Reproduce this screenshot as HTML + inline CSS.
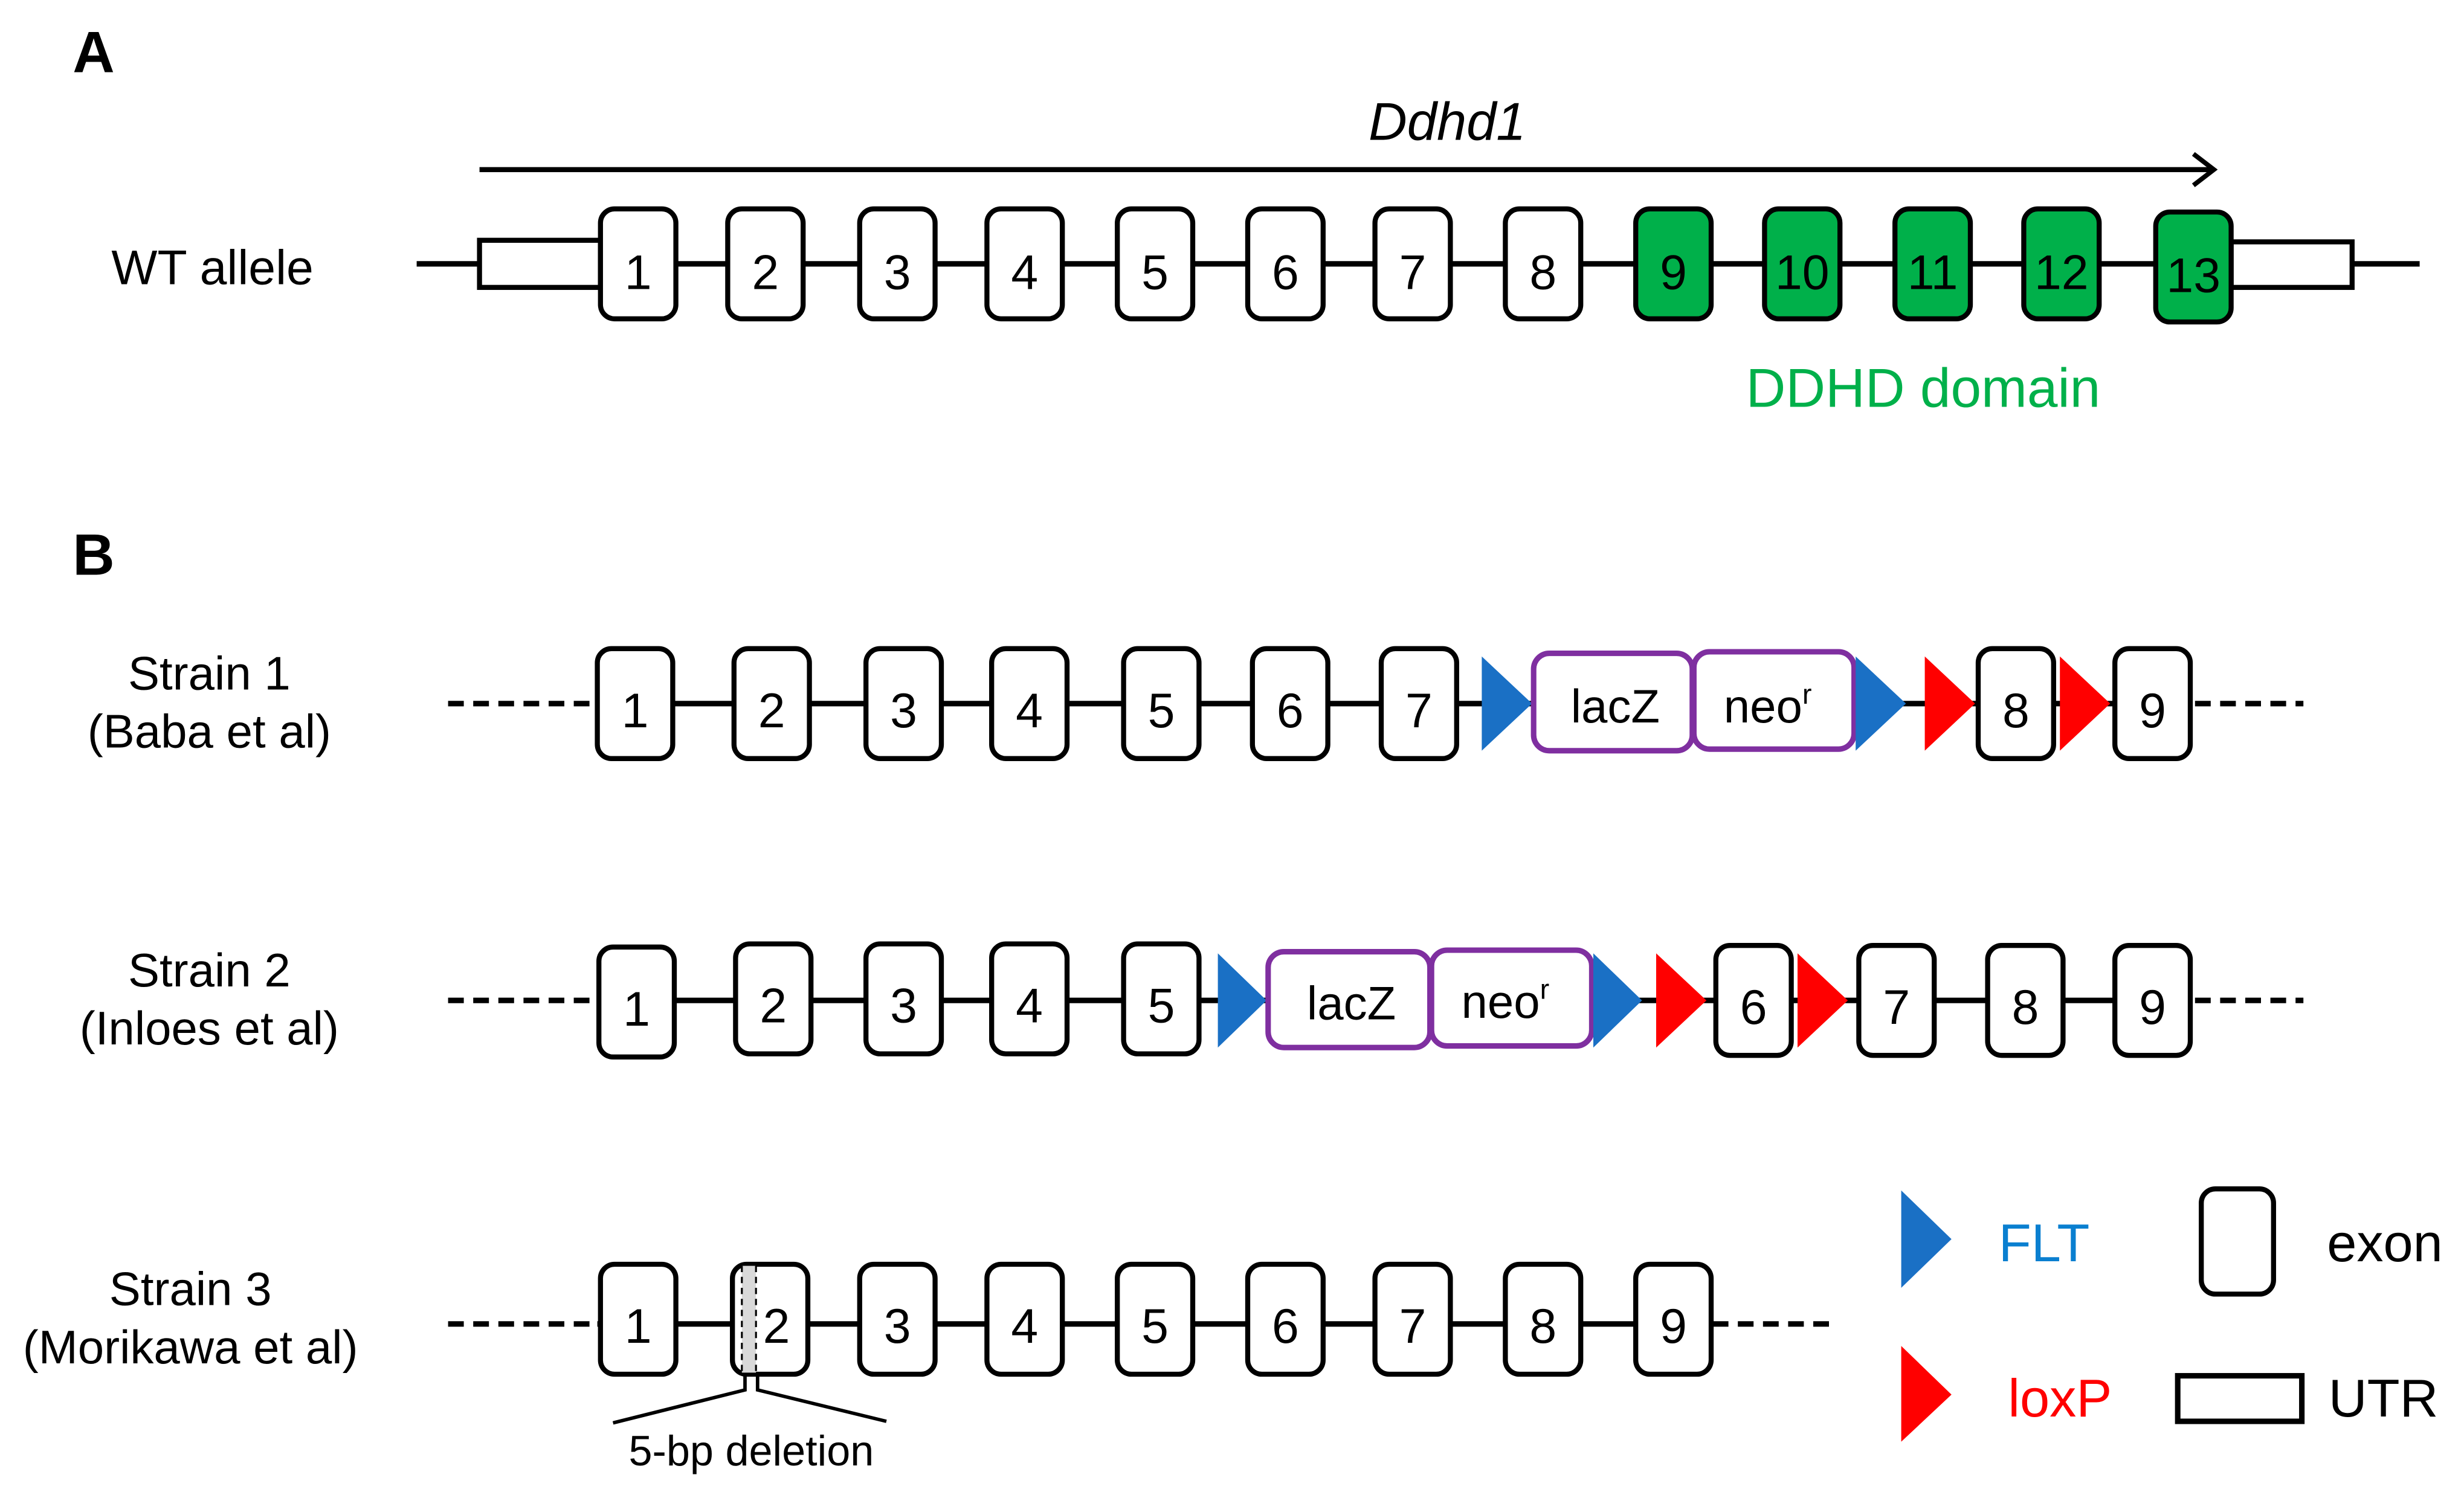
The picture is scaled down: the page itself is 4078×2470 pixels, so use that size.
<!DOCTYPE html>
<html><head><meta charset="utf-8"><style>html,body{margin:0;padding:0;background:#fff}svg{display:block}</style></head>
<body>
<svg width="4078" height="2470" viewBox="0 0 1568 950" xmlns="http://www.w3.org/2000/svg" font-family="Liberation Sans, Arial, sans-serif">
<defs>
<g id="ex"><rect x="-24" y="-35" width="48" height="70" rx="9" fill="#fff" stroke="#000" stroke-width="3.2"/></g>
<g id="exg"><rect x="-24" y="-35" width="48" height="70" rx="9" fill="#00b04a" stroke="#000" stroke-width="3.2"/></g>
</defs>
<rect width="1568" height="950" fill="#fff"/>
<text x="46" y="46" font-size="37" font-weight="bold">A</text>
<text x="46" y="366" font-size="37" font-weight="bold">B</text>

<!-- Panel A -->
<text x="921" y="89" font-size="34" font-style="italic" text-anchor="middle">Ddhd1</text>
<line x1="305" y1="108" x2="1408" y2="108" stroke="#000" stroke-width="3.2"/>
<polyline points="1396,98 1409,108 1396,118" fill="none" stroke="#000" stroke-width="3"/>
<text x="135" y="181" font-size="31" text-anchor="middle">WT allele</text>
<line x1="265" y1="168" x2="1540" y2="168" stroke="#000" stroke-width="3.5"/>
<rect x="305" y="153" width="77" height="30" fill="#fff" stroke="#000" stroke-width="3.2"/>
<rect x="1420" y="154" width="77" height="29" fill="#fff" stroke="#000" stroke-width="3.2"/>
<g font-size="31" text-anchor="middle">
<use href="#ex" x="406" y="168"/><text x="406" y="184">1</text>
<use href="#ex" x="487" y="168"/><text x="487" y="184">2</text>
<use href="#ex" x="571" y="168"/><text x="571" y="184">3</text>
<use href="#ex" x="652" y="168"/><text x="652" y="184">4</text>
<use href="#ex" x="735" y="168"/><text x="735" y="184">5</text>
<use href="#ex" x="818" y="168"/><text x="818" y="184">6</text>
<use href="#ex" x="899" y="168"/><text x="899" y="184">7</text>
<use href="#ex" x="982" y="168"/><text x="982" y="184">8</text>
<use href="#exg" x="1065" y="168"/><text x="1065" y="184">9</text>
<use href="#exg" x="1147" y="168"/><text x="1147" y="184">10</text>
<use href="#exg" x="1230" y="168"/><text x="1230" y="184">11</text>
<use href="#exg" x="1312" y="168"/><text x="1312" y="184">12</text>
<use href="#exg" x="1396" y="170"/><text x="1396" y="186">13</text>
</g>
<text x="1224" y="259" font-size="35" fill="#00b04a" text-anchor="middle">DDHD domain</text>

<!-- Strain 1 -->
<g font-size="30" text-anchor="middle"><text x="133" y="439">Strain 1</text><text x="133" y="476">(Baba et al)</text></g>
<line x1="285" y1="448" x2="380" y2="448" stroke="#000" stroke-width="3.5" stroke-dasharray="10,6"/>
<line x1="380" y1="448" x2="1395" y2="448" stroke="#000" stroke-width="3.5"/>
<line x1="1397" y1="448" x2="1466" y2="448" stroke="#000" stroke-width="3.5" stroke-dasharray="10,6"/>
<g font-size="31" text-anchor="middle">
<use href="#ex" x="404" y="448"/><text x="404" y="463">1</text>
<use href="#ex" x="491" y="448"/><text x="491" y="463">2</text>
<use href="#ex" x="575" y="448"/><text x="575" y="463">3</text>
<use href="#ex" x="655" y="448"/><text x="655" y="463">4</text>
<use href="#ex" x="739" y="448"/><text x="739" y="463">5</text>
<use href="#ex" x="821" y="448"/><text x="821" y="463">6</text>
<use href="#ex" x="903" y="448"/><text x="903" y="463">7</text>
<use href="#ex" x="1283" y="448"/><text x="1283" y="463">8</text>
<use href="#ex" x="1370" y="448"/><text x="1370" y="463">9</text>
</g>
<polygon points="943,418 975,448 943,478" fill="#1a70c5"/>
<rect x="976" y="416" width="101" height="62" rx="10" fill="#fff" stroke="#7f2fa0" stroke-width="3.5"/>
<rect x="1078" y="415" width="102" height="62" rx="10" fill="#fff" stroke="#7f2fa0" stroke-width="3.5"/>
<polygon points="1181,418 1213,448 1181,478" fill="#1a70c5"/>
<polygon points="1225,418 1257,448 1225,478" fill="#ff0000"/>
<polygon points="1311,418 1343,448 1311,478" fill="#ff0000"/>
<text x="1028" y="460" font-size="30" text-anchor="middle">lacZ</text>
<text x="1125" y="460" font-size="30" text-anchor="middle">neo<tspan font-size="18" dy="-12">r</tspan></text>

<!-- Strain 2 -->
<g font-size="30" text-anchor="middle"><text x="133" y="628">Strain 2</text><text x="133" y="665">(Inloes et al)</text></g>
<line x1="285" y1="637" x2="380" y2="637" stroke="#000" stroke-width="3.5" stroke-dasharray="10,6"/>
<line x1="380" y1="637" x2="1395" y2="637" stroke="#000" stroke-width="3.5"/>
<line x1="1397" y1="637" x2="1466" y2="637" stroke="#000" stroke-width="3.5" stroke-dasharray="10,6"/>
<g font-size="31" text-anchor="middle">
<use href="#ex" x="405" y="638"/><text x="405" y="653">1</text>
<use href="#ex" x="492" y="636"/><text x="492" y="651">2</text>
<use href="#ex" x="575" y="636"/><text x="575" y="651">3</text>
<use href="#ex" x="655" y="636"/><text x="655" y="651">4</text>
<use href="#ex" x="739" y="636"/><text x="739" y="651">5</text>
<use href="#ex" x="1116" y="637"/><text x="1116" y="652">6</text>
<use href="#ex" x="1207" y="637"/><text x="1207" y="652">7</text>
<use href="#ex" x="1289" y="637"/><text x="1289" y="652">8</text>
<use href="#ex" x="1370" y="637"/><text x="1370" y="652">9</text>
</g>
<polygon points="775,607 806,637 775,667" fill="#1a70c5"/>
<rect x="807" y="606" width="103" height="61" rx="10" fill="#fff" stroke="#7f2fa0" stroke-width="3.5"/>
<rect x="911" y="605" width="102" height="61" rx="10" fill="#fff" stroke="#7f2fa0" stroke-width="3.5"/>
<polygon points="1014,607 1045,637 1014,667" fill="#1a70c5"/>
<polygon points="1054,607 1086,637 1054,667" fill="#ff0000"/>
<polygon points="1144,607 1176,637 1144,667" fill="#ff0000"/>
<text x="860" y="649" font-size="30" text-anchor="middle">lacZ</text>
<text x="958" y="648" font-size="30" text-anchor="middle">neo<tspan font-size="18" dy="-12">r</tspan></text>

<!-- Strain 3 -->
<g font-size="30" text-anchor="middle"><text x="121" y="831">Strain 3</text><text x="121" y="868">(Morikawa et al)</text></g>
<line x1="285" y1="843" x2="380" y2="843" stroke="#000" stroke-width="3.5" stroke-dasharray="10,6"/>
<line x1="380" y1="843" x2="1090" y2="843" stroke="#000" stroke-width="3.5"/>
<line x1="1090" y1="843" x2="1170" y2="843" stroke="#000" stroke-width="3.5" stroke-dasharray="10,6"/>
<g font-size="31" text-anchor="middle">
<use href="#ex" x="406" y="840"/><text x="406" y="855">1</text>
<use href="#ex" x="490" y="840"/>
<rect x="472" y="806" width="9" height="68" fill="#d9d9d9"/>
<line x1="472" y1="806" x2="472" y2="874" stroke="#000" stroke-width="1.2" stroke-dasharray="4,3"/>
<line x1="481" y1="806" x2="481" y2="874" stroke="#000" stroke-width="1.2" stroke-dasharray="4,3"/>
<text x="494" y="855">2</text>
<use href="#ex" x="571" y="840"/><text x="571" y="855">3</text>
<use href="#ex" x="652" y="840"/><text x="652" y="855">4</text>
<use href="#ex" x="735" y="840"/><text x="735" y="855">5</text>
<use href="#ex" x="818" y="840"/><text x="818" y="855">6</text>
<use href="#ex" x="899" y="840"/><text x="899" y="855">7</text>
<use href="#ex" x="982" y="840"/><text x="982" y="855">8</text>
<use href="#ex" x="1065" y="840"/><text x="1065" y="855">9</text>
</g>
<polyline points="390,906 474,885 474,875" fill="none" stroke="#000" stroke-width="2.2"/>
<polyline points="564,905 482,885 482,875" fill="none" stroke="#000" stroke-width="2.2"/>
<text x="478" y="933" font-size="27" text-anchor="middle">5-bp deletion</text>

<!-- Legend -->
<polygon points="1210,758 1242,789 1210,820" fill="#1a70c5"/>
<text x="1272" y="803" font-size="34" fill="#0a7fd0">FLT</text>
<rect x="1401" y="757" width="46" height="67" rx="9" fill="#fff" stroke="#000" stroke-width="3.2"/>
<text x="1481" y="803" font-size="34">exon</text>
<polygon points="1210,857 1242,888 1210,918" fill="#ff0000"/>
<text x="1278" y="902" font-size="34" fill="#ff0000">loxP</text>
<rect x="1386" y="876" width="79" height="29" fill="#fff" stroke="#000" stroke-width="3.5"/>
<text x="1482" y="902" font-size="34">UTR</text>
</svg>
</body></html>
